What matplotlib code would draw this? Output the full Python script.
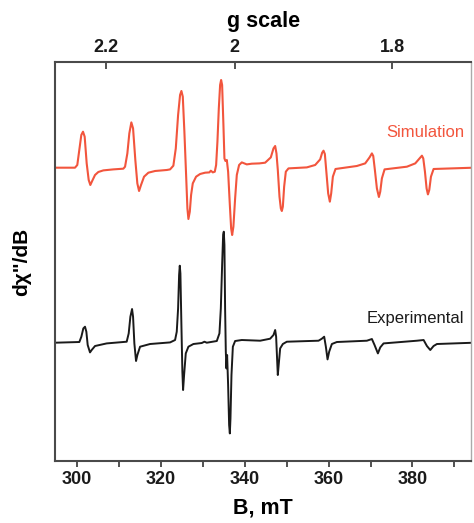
import matplotlib
matplotlib.use("Agg")
import matplotlib.pyplot as plt
from matplotlib.ticker import FixedLocator, MultipleLocator

plt.rcParams["font.family"] = ["Liberation Sans", "DejaVu Sans"]

# h*nu/mu_B in mT, so that g = G_CONST / B
G_CONST = 675.2

# simulated spectrum: field (mT) and derivative signal (a.u.)
sim_field = [
    294.75, 299.52, 300.07, 300.55, 301.03, 301.43, 301.83, 302.31, 302.79, 303.18,
    303.65, 304.30, 305.09, 306.28, 308.66, 311.05,
    311.46, 312.01, 312.48, 312.96, 313.37, 313.91, 314.39, 314.80, 315.27, 315.99,
    317.02, 318.62, 321.41,
    322.20, 322.98, 323.56, 324.11, 324.58, 324.90, 325.23, 325.61, 326.02, 326.33,
    326.57, 326.90, 327.21, 327.61, 328.40, 329.36, 330.55, 331.58, 331.91, 332.39,
    332.86,
    333.18, 333.49, 333.82, 334.13, 334.37, 334.61, 334.92, 335.16, 335.40, 335.73,
    336.04, 336.45, 336.76, 337.00, 337.30, 337.71, 338.11, 338.66, 339.30, 340.49,
    341.69, 343.51,
    344.87, 346.22, 346.86, 347.26, 347.57, 347.89, 348.29, 348.61, 348.85, 349.09,
    349.40, 349.80, 350.44,
    354.81, 356.80, 357.99, 358.47, 358.79, 359.11, 359.50, 359.90, 360.30, 360.62,
    361.02, 361.65,
    366.74, 368.73, 369.77, 370.33, 370.65, 371.04, 371.52, 372.00, 372.32, 372.71,
    373.35,
    378.68, 380.67, 381.70, 382.26, 382.58, 382.98, 383.37, 383.69, 384.01, 384.41,
    385.04, 394.59,
]
sim_signal = [
    0.0, 0.0, 2.7, 17.7, 32.7, 36.0, 31.0, 4.3, -12.3, -17.3,
    -13.0, -7.3, -4.3, -2.7, -1.7, -1.0,
    1.0, 14.3, 34.3, 45.3, 39.3, 7.7, -15.7, -23.3, -17.3, -9.0,
    -5.0, -3.3, -2.3,
    -1.7, 2.0, 19.3, 52.7, 72.7, 76.7, 71.0, 36.0, -7.3, -40.7,
    -51.3, -44.0, -27.3, -15.7, -9.0, -6.3, -5.0, -4.7, -3.0, -4.7,
    -4.0,
    2.7, 26.0, 59.3, 82.7, 87.7, 82.7, 42.7, 9.3, 6.7, 7.7,
    -4.0, -37.3, -60.7, -67.3, -59.0, -30.7, -7.3, 2.7, 5.3, 3.3,
    4.0, 4.3,
    5.0, 10.3, 19.3, 21.7, 14.3, -2.3, -29.0, -40.7, -43.3, -39.0,
    -19.0, -4.0, -0.7,
    0.3, 2.7, 8.3, 15.0, 17.0, 13.7, -5.7, -25.7, -34.0, -25.7,
    -9.0, -1.3,
    1.7, 4.3, 10.3, 14.3, 11.7, -2.3, -20.7, -29.3, -24.0, -10.7,
    -1.7,
    1.0, 4.3, 9.3, 12.0, 9.3, -4.0, -20.7, -26.7, -22.3, -9.0,
    -1.3, 0.0,
]

# experimental spectrum
exp_field = [
    294.75, 300.56, 301.04, 301.51, 301.91, 302.23, 302.55, 303.10, 303.50, 304.30,
    307.08,
    311.85, 312.33, 312.73, 313.13, 313.37, 313.68, 314.08, 314.40, 315.04, 317.42,
    322.20, 323.39, 323.79, 324.11, 324.35, 324.51, 324.66, 324.90, 325.13, 325.30,
    325.54, 325.94, 326.57, 327.76, 329.76, 330.39, 330.95, 333.34,
    333.97, 334.30, 334.61, 334.85, 335.01, 335.16, 335.32, 335.49, 335.64, 335.80,
    336.04, 336.28, 336.45, 336.60, 336.84, 337.17, 337.71, 339.30, 343.68,
    346.06, 346.86, 347.26, 347.49, 347.73, 347.89, 348.13, 348.45, 349.09, 350.04,
    357.60, 358.39, 358.95, 359.35, 359.75, 360.14, 360.78, 361.97,
    369.13, 370.33, 370.96, 371.76, 372.32, 373.11,
    381.07, 382.66, 383.45, 384.25, 385.04, 385.84, 394.59,
]
exp_signal = [
    0.0, 0.7, 6.0, 14.3, 16.0, 11.0, -2.3, -9.7, -7.3, -3.3,
    -0.7,
    1.0, 9.3, 26.0, 33.7, 26.0, -0.7, -18.3, -12.3, -4.0, -1.3,
    0.3, 2.7, 11.0, 34.3, 67.7, 77.0, 69.3, 17.7, -29.0, -47.3,
    -32.3, -10.7, -4.0, -1.3, -0.3, 1.0, 0.0, 1.7,
    9.3, 34.3, 77.7, 107.7, 111.0, 97.7, 34.3, -9.0, -25.7, -12.3,
    -42.3, -82.3, -90.7, -75.7, -32.3, -4.0, 1.7, 2.7, 2.0,
    4.0, 7.7, 12.7, 6.0, -17.3, -32.3, -20.7, -5.7, -1.3, 1.0,
    2.0, 4.0, 6.0, -4.0, -16.7, -9.0, -1.3, 0.7,
    2.0, 3.7, -2.3, -10.7, -4.7, -0.7,
    2.0, 2.7, -3.3, -7.3, -3.3, -1.3, 0.0,
]

g_ticks = [2.2, 2.0, 1.8]
g_labels = ["2.2", "2", "1.8"]

RED = "#f2553d"
SIM_OFFSET = 293.3
EXP_OFFSET = 118.3

fig = plt.figure(figsize=(4.74, 5.23), dpi=100)
ax = fig.add_axes([0.116, 0.1185, 0.878, 0.763])

ax.plot(sim_field, [v + SIM_OFFSET for v in sim_signal], color=RED, lw=1.5,
        solid_joinstyle="round")
ax.plot(exp_field, [v + EXP_OFFSET for v in exp_signal], color="#1a1a1a", lw=1.4,
        solid_joinstyle="round")

ax.text(383.1, 328.3, "Simulation", color=RED, fontsize=12, ha="center", va="center")
ax.text(380.7, 143, "Experimental", color="#1a1a1a", fontsize=12, ha="center", va="center")

ax.set_xlim(294.75, 394.0)
ax.set_ylim(0, 399)
ax.set_yticks([])
ax.xaxis.set_major_locator(MultipleLocator(20))
ax.xaxis.set_minor_locator(MultipleLocator(10))
ax.tick_params(axis="x", which="both", direction="out", length=4, width=1.2,
               colors="#333333", labelsize=13, labelcolor="#1a1a1a", pad=3)
for lab in ax.get_xticklabels():
    lab.set_fontweight("bold")
ax.set_xlabel("B, mT", fontsize=15.5, fontweight="bold", labelpad=7)
ax.set_ylabel('dχ"/dB', fontsize=15, fontweight="bold", labelpad=17)

for side in ["left", "top", "bottom"]:
    ax.spines[side].set_color("#4a4a4a")
    ax.spines[side].set_linewidth(1.5)
ax.spines["right"].set_color("#aaaaaa")
ax.spines["right"].set_linewidth(1.0)

top = ax.secondary_xaxis("top", functions=(lambda b: G_CONST / b, lambda g: G_CONST / g))
top.xaxis.set_major_locator(FixedLocator(g_ticks))
top.set_xticklabels(g_labels, fontweight="bold")
top.tick_params(axis="x", direction="in", length=5, width=1.2, colors="#333333",
                labelsize=13, labelcolor="#1a1a1a", pad=4)
top.xaxis.set_minor_locator(FixedLocator([]))
top.spines["top"].set_visible(False)
top.set_xlabel("g scale", fontsize=15.5, fontweight="bold", labelpad=9)

fig.savefig("out.png", dpi=100)
